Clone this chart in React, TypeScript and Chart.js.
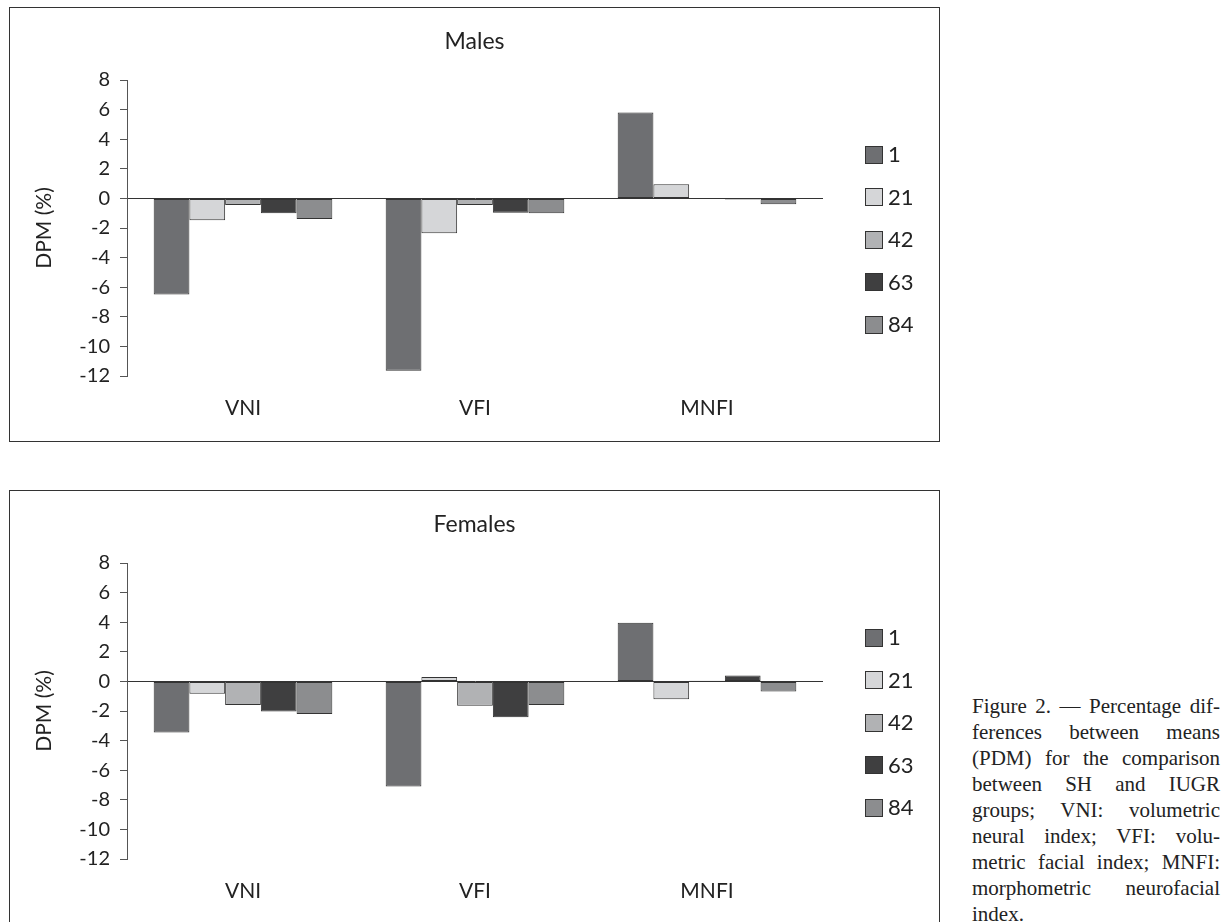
import React, { useEffect, useRef } from 'react';
import { Chart, registerables } from 'chart.js';

Chart.register(...registerables);

// ---- data ----
const categories = ['VNI', 'VFI', 'MNFI'];
const seriesLabels = ['1', '21', '42', '63', '84'];
const seriesColors = ['#6e6f72', '#d5d6d8', '#b1b2b4', '#3f3f40', '#8c8d8f'];

const males1 = [-6.5, -11.65, 5.8];
const males21 = [-1.47, -2.36, 0.95];
const males42 = [-0.45, -0.45, 0];
const males63 = [-1.0, -0.97, -0.07];
const males84 = [-1.4, -1.0, -0.4];

const females1 = [-3.45, -7.1, 3.97];
const females21 = [-0.83, 0.3, -1.2];
const females42 = [-1.6, -1.65, 0.05];
const females63 = [-2.03, -2.43, 0.4];
const females84 = [-2.2, -1.6, -0.68];

const yMin = -12;
const yMax = 8;
const yStep = 2;
const yTitle = 'DPM (%)';

const captionLines = [
  'Figure 2. — Percentage dif-',
  'ferences between means',
  '(PDM) for the comparison',
  'between SH and IUGR',
  'groups; VNI: volumetric',
  'neural index; VFI: volu-',
  'metric facial index; MNFI:',
  'morphometric neurofacial',
  'index.',
];

const FONT = 'Lato, "Open Sans", "DejaVu Sans", sans-serif';
const CANVAS_W = 929;
const CANVAS_H = 433;

const sideLegend = {
  id: 'sideLegend',
  afterDraw(chart: any) {
    const ctx = chart.ctx;
    const area = chart.chartArea;
    const boxX = area.right + 42;
    const size = 17;
    ctx.save();
    ctx.font = `22px ${FONT}`;
    ctx.textBaseline = 'middle';
    ctx.textAlign = 'left';
    chart.data.datasets.forEach((ds: any, i: number) => {
      const cy = area.top + 74 + i * 42.5;
      const top = Math.round(cy - size / 2) + 0.5;
      ctx.fillStyle = ds.backgroundColor;
      ctx.fillRect(boxX + 0.5, top, size, size);
      ctx.strokeStyle = '#333';
      ctx.lineWidth = 1;
      ctx.strokeRect(boxX + 0.5, top, size, size);
      ctx.fillStyle = '#222';
      ctx.fillText(ds.label, boxX + size + 6, cy + 1);
    });
    ctx.restore();
  },
};

function BarChart({ title, series }: { title: string; series: number[][] }) {
  const ref = useRef<HTMLCanvasElement | null>(null);
  useEffect(() => {
    if (!ref.current) return;
    const chart = new Chart(ref.current, {
      type: 'bar',
      data: {
        labels: categories,
        datasets: series.map((values, i) => ({
          label: seriesLabels[i],
          data: values,
          backgroundColor: seriesColors[i],
          borderColor: '#333',
          borderWidth: 1,
          borderSkipped: false,
          categoryPercentage: 0.77,
          barPercentage: 1.0,
        })),
      },
      options: {
        responsive: false,
        animation: false,
        devicePixelRatio: 1,
        events: [],
        layout: { padding: 0 },
        plugins: {
          legend: { display: false },
          tooltip: { enabled: false },
          title: {
            display: true,
            text: title,
            color: '#222',
            font: { family: FONT, size: 23, weight: 'normal', lineHeight: 1.2 },
            padding: { top: 20, bottom: 24.4 },
          },
        },
        scales: {
          x: {
            grid: { display: false, drawTicks: false },
            border: { display: false },
            ticks: { color: '#222', font: { family: FONT, size: 21 }, padding: 20 },
            afterFit: (s: any) => {
              s.height = 65;
            },
          },
          y: {
            min: yMin,
            max: yMax,
            ticks: { stepSize: yStep, color: '#222', font: { family: FONT, size: 20 }, padding: 10 },
            grid: {
              drawTicks: true,
              tickLength: 7,
              tickColor: '#555',
              lineWidth: 1,
              color: (ctx: any) => (ctx.tick && ctx.tick.value === 0 ? '#333' : 'rgba(0,0,0,0)'),
            },
            border: { display: true, color: '#555', width: 1 },
            title: {
              display: true,
              text: yTitle,
              color: '#222',
              font: { family: FONT, size: 21, lineHeight: 1.2 },
              padding: { top: 22, bottom: 0 },
            },
            afterFit: (s: any) => {
              s.width = 117;
            },
          },
          yR: {
            type: 'linear',
            position: 'right',
            display: true,
            grid: { display: false, drawTicks: false },
            border: { display: false },
            ticks: { display: false },
            afterFit: (s: any) => {
              s.width = 116;
            },
          },
        },
      } as any,
      plugins: [sideLegend],
    });
    return () => chart.destroy();
  }, [title, series]);
  return <canvas ref={ref} width={CANVAS_W} height={CANVAS_H} style={{ display: 'block', width: CANVAS_W, height: CANVAS_H }} />;
}

function Panel({ top, title, series }: { top: number; title: string; series: number[][] }) {
  return (
    <div
      style={{
        position: 'absolute',
        left: 9,
        top,
        width: 931,
        height: 435,
        border: '1px solid #333',
        boxSizing: 'border-box',
        background: '#fff',
      }}
    >
      <div style={{ position: 'absolute', left: 0, top: 0 }}>
        <BarChart title={title} series={series} />
      </div>
    </div>
  );
}

const malesSeries = [males1, males21, males42, males63, males84];
const femalesSeries = [females1, females21, females42, females63, females84];

export default function App() {
  return (
    <div
      style={{
        position: 'absolute',
        left: 0,
        top: 0,
        width: 1226,
        height: 922,
        overflow: 'hidden',
        background: '#fff',
      }}
    >
      <Panel top={7} title="Males" series={malesSeries} />
      <Panel top={490} title="Females" series={femalesSeries} />
      <div
        style={{
          position: 'absolute',
          left: 972,
          top: 693,
          width: 248,
          fontFamily: '"Liberation Serif", "DejaVu Serif", serif',
          fontSize: 21,
          color: '#222',
        }}
      >
        {captionLines.map((line, i) => (
          <div
            key={i}
            style={{
              height: 26,
              lineHeight: '26px',
              textAlign: 'justify',
              textAlignLast: i < captionLines.length - 1 ? 'justify' : 'left',
            } as any}
          >
            {line}
          </div>
        ))}
      </div>
    </div>
  );
}
